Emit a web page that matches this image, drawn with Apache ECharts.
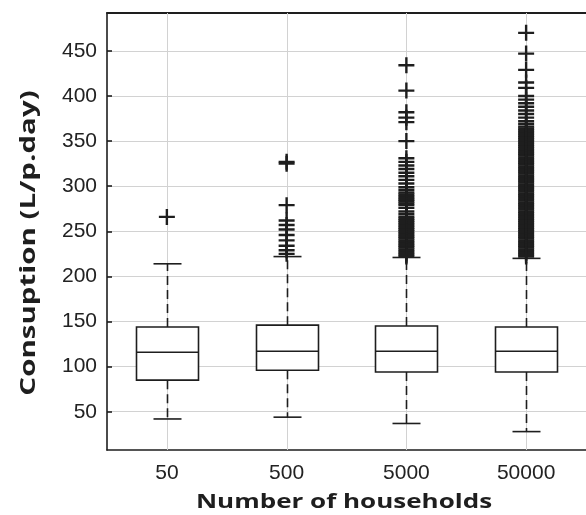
<!DOCTYPE html>
<html>
<head>
<meta charset="utf-8">
<script src="https://cdn.jsdelivr.net/npm/echarts@6/dist/echarts.min.js"></script>
<style>
  html, body { margin: 0; padding: 0; background: #fff; }
  #chart { width: 586px; height: 515px; }
</style>
</head>
<body>
<div id="chart"></div>
<script>
// box statistics per group (L/p.day)
const categories = ['50', '500', '5000', '50000'];
const lowWhisker = [42, 44, 37, 28];
const q1 = [85, 96, 94, 94];
const median = [116, 117, 117, 117];
const q3 = [144, 146, 145, 144];
const highWhisker = [214, 222, 221, 220];

// outliers
const out50 = [266];
const out500 = [327, 325, 279, 262, 257, 252, 246, 240, 234, 229, 225];
const out5000 = [
  434, 406, 382, 376, 371, 350, 331,
  327, 323, 319, 315, 311, 307,
  303, 299, 296, 293, 291, 289, 287, 285, 283, 281, 279,
  276, 272, 269,
  266, 264, 262, 260, 258, 256, 254, 252, 250, 248, 246, 244, 242, 240,
  238, 236, 234, 232, 230, 228, 226, 224, 222
];
const out50000 = [
  470, 447, 429, 415, 409,
  400, 396, 392, 388, 384, 380, 376, 372, 369,
  366, 364, 362, 360, 358, 356, 354, 352, 350, 348, 346, 344, 342, 340,
  338, 336, 334, 332, 330, 328, 326, 324, 322, 320, 318, 316, 314, 312,
  310, 308, 306, 304, 302, 300, 298, 296, 294, 292, 290, 288, 286, 284,
  282, 280, 278, 276, 274, 272, 270, 268, 266, 264, 262, 260, 258, 256,
  254, 252, 250, 248, 246, 244, 242, 240, 238, 236, 234, 232, 230, 228,
  226, 224, 222
];
const outliers = [out50, out500, out5000, out50000];
const yTicks = [50, 100, 150, 200, 250, 300, 350, 400, 450];
const xTitle = 'Number of households';
const yTitle = 'Consuption (L/p.day)';

const boxData = categories.map((c, i) => [i, lowWhisker[i], q1[i], median[i], q3[i], highWhisker[i]]);
const outlierData = [];
outliers.forEach((arr, i) => arr.forEach(v => outlierData.push([i, v])));

const ink = '#1e1e1e';
const gridGray = '#d2d2d2';
const plus = 'path://M0,6.8H16V9.2H0Z M6.8,0H9.2V16H6.8Z';

function renderBox(params, api) {
  const i = api.value(0);
  const cs = params.coordSys;
  const xc = Math.round(api.coord([i, 0])[0]) + 0.5;
  const y = k => api.coord([i, api.value(k)])[1];
  const yLow = y(1), yQ1 = y(2), yMed = y(3), yQ3 = y(4), yHigh = y(5);
  const halfBox = 31, halfCap = 14;
  const solid = { stroke: ink, lineWidth: 1.6, fill: null };
  const dashed = { stroke: ink, lineWidth: 1.6, lineDash: [9, 5] };
  return {
    type: 'group',
    children: [
      { type: 'line', shape: { x1: xc, y1: cs.y, x2: xc, y2: cs.y + cs.height },
        style: { stroke: gridGray, lineWidth: 1 } },
      { type: 'line', shape: { x1: xc, y1: yQ3, x2: xc, y2: yHigh }, style: dashed },
      { type: 'line', shape: { x1: xc, y1: yQ1, x2: xc, y2: yLow }, style: dashed },
      { type: 'line', shape: { x1: xc - halfCap, y1: yHigh, x2: xc + halfCap, y2: yHigh }, style: solid },
      { type: 'line', shape: { x1: xc - halfCap, y1: yLow, x2: xc + halfCap, y2: yLow }, style: solid },
      { type: 'rect', shape: { x: xc - halfBox, y: yQ3, width: 2 * halfBox, height: yQ1 - yQ3 },
        style: { stroke: ink, lineWidth: 1.6, fill: '#fff' } },
      { type: 'line', shape: { x1: xc - halfBox, y1: yMed, x2: xc + halfBox, y2: yMed }, style: solid }
    ]
  };
}

const chart = echarts.init(document.getElementById('chart'));
chart.setOption({
  animation: false,
  grid: { left: 107, top: 13, right: -12, bottom: 65 },
  // axis titles are drawn a little wider than the font, as in the source figure
  graphic: [{
    type: 'text',
    x: 344, y: 502,
    scaleX: 1.3,
    style: { text: xTitle, font: 'bold 20px "Open Sans"', fill: ink, align: 'center', verticalAlign: 'middle' }
  }, {
    type: 'text',
    x: 29, y: 243,
    rotation: Math.PI / 2,
    scaleX: 1.34,
    style: { text: yTitle, font: 'bold 22px "Open Sans"', fill: ink, align: 'center', verticalAlign: 'middle' }
  }],
  xAxis: [{
    type: 'category',
    data: categories,
    position: 'bottom',
    axisLine: { lineStyle: { color: ink, width: 1.6 } },
    axisTick: { inside: true, alignWithLabel: true, length: 5, lineStyle: { color: ink, width: 1.6 } },
    axisLabel: { margin: 13, fontFamily: 'Liberation Sans', fontSize: 21, color: '#222' },
    splitLine: { show: false }
  }, {
    type: 'category',
    data: categories,
    position: 'top',
    axisLine: { lineStyle: { color: ink, width: 2 } },
    axisTick: { inside: true, alignWithLabel: true, length: 5, lineStyle: { color: ink, width: 1.6 } },
    axisLabel: { show: false },
    splitLine: { show: false }
  }],
  yAxis: {
    type: 'value',
    min: 7.6,
    max: 492,
    axisLine: { show: true, lineStyle: { color: ink, width: 1.6 } },
    axisTick: { show: true, inside: true, length: 5, customValues: yTicks, lineStyle: { color: ink, width: 1.6 } },
    axisLabel: { margin: 10, customValues: yTicks, fontFamily: 'Liberation Sans', fontSize: 21, color: '#222' },
    splitLine: { show: true, lineStyle: { color: gridGray, width: 1 } }
  },
  series: [{
    type: 'custom',
    renderItem: renderBox,
    data: boxData,
    encode: { x: 0, y: [1, 2, 3, 4, 5] },
    z: 2
  }, {
    type: 'scatter',
    data: outlierData,
    symbol: plus,
    symbolSize: 16,
    itemStyle: { color: ink, opacity: 1 },
    z: 3
  }]
});
</script>
</body>
</html>
